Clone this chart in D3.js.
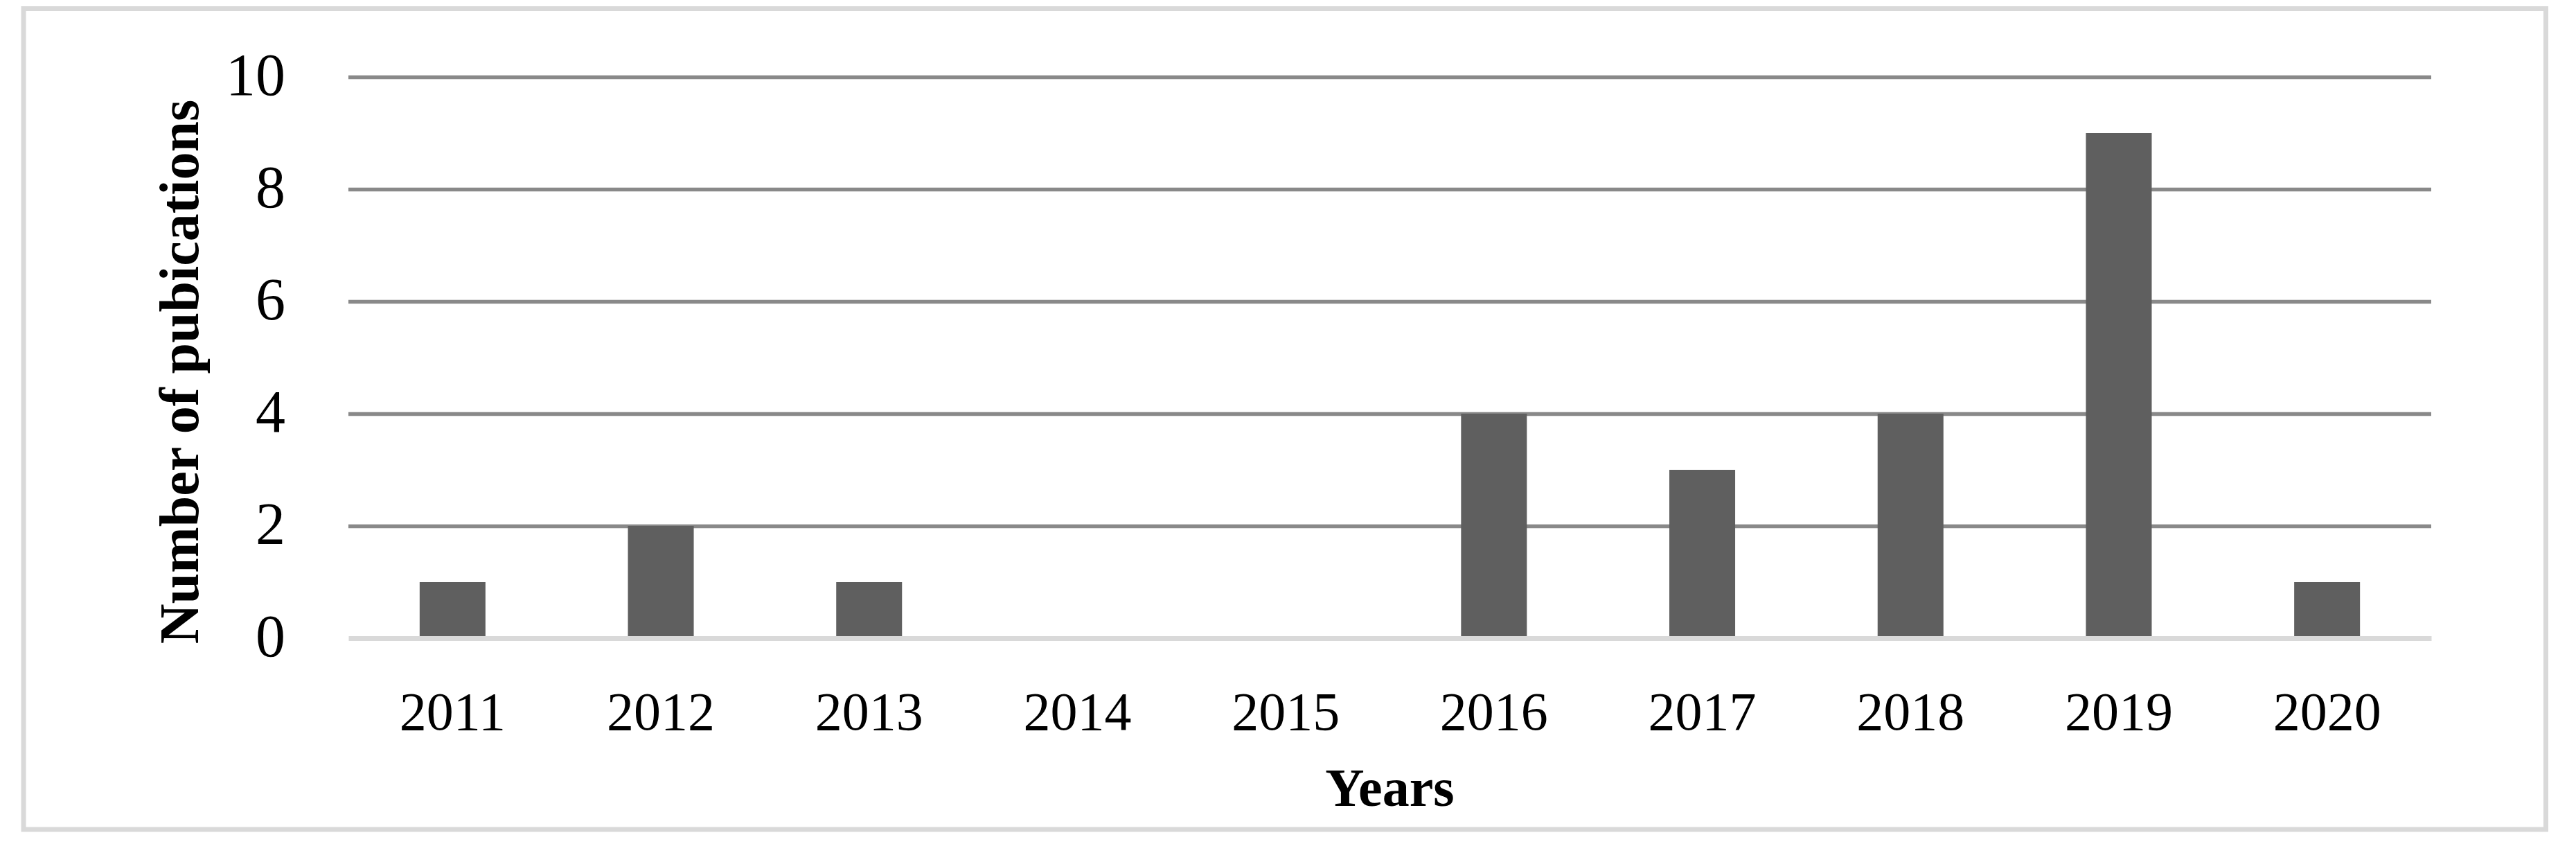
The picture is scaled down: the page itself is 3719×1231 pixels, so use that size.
<!DOCTYPE html>
<html>
<head>
<meta charset="utf-8">
<script src="https://cdn.jsdelivr.net/npm/d3@7"></script>
<style>
  html, body { margin: 0; padding: 0; background: #ffffff; }
  svg { display: block; }
  text { font-family: "Liberation Serif", "Times New Roman", serif; fill: #000; }
</style>
</head>
<body>
<script>
// ---- data ----
const years = ["2011", "2012", "2013", "2014", "2015", "2016", "2017", "2018", "2019", "2020"];
const publications = [1, 2, 1, 0, 0, 4, 3, 4, 9, 1];
const yTicks = [0, 2, 4, 6, 8, 10];
const xTitle = "Years";
const yTitle = "Number of pubications";

// ---- layout ----
const W = 3719, H = 1231;
const plotLeft = 503, plotRight = 3510, plotTop = 111, plotBottom = 921;

const svg = d3.select("body").append("svg")
  .attr("width", W).attr("height", H);

// outer frame
svg.append("rect")
  .attr("x", 34).attr("y", 12.5)
  .attr("width", 3641.5).attr("height", 1184.5)
  .attr("fill", "#ffffff")
  .attr("stroke", "#d9d9d9")
  .attr("stroke-width", 7);

const x = d3.scaleBand()
  .domain(years)
  .range([plotLeft, plotRight])
  .paddingInner(0.684)
  .paddingOuter(0.342);

const y = d3.scaleLinear()
  .domain([0, 10])
  .range([plotBottom, plotTop]);

// y axis with gridlines
const yAxisG = svg.append("g")
  .attr("transform", `translate(${plotLeft},0)`)
  .call(d3.axisLeft(y)
    .tickValues(yTicks)
    .tickFormat(d3.format("d"))
    .tickSize(-(plotRight - plotLeft))
    .tickPadding(91));
yAxisG.select(".domain").remove();
yAxisG.selectAll(".tick line")
  .attr("stroke", "#898989")
  .attr("stroke-width", 5.5)
  .attr("opacity", d => d === 0 ? 0 : 1);
yAxisG.selectAll(".tick text")
  .attr("dy", "25px")
  .style("font-size", "86px")
  .style("font-family", "'Liberation Serif', 'Times New Roman', serif")
  .attr("fill", "#000");

// bars
svg.append("g").selectAll("rect")
  .data(years.map((yr, i) => ({ yr, v: publications[i] })))
  .join("rect")
  .attr("x", d => x(d.yr))
  .attr("width", x.bandwidth())
  .attr("y", d => y(d.v))
  .attr("height", d => y(0) - y(d.v))
  .attr("fill", "#5f5f5f");

// x axis (category axis line drawn over bar bottoms)
const xAxisG = svg.append("g")
  .attr("transform", `translate(0,${plotBottom})`)
  .call(d3.axisBottom(x).tickSize(0).tickSizeOuter(0).tickPadding(132));
xAxisG.select(".domain")
  .attr("stroke", "#d9d9d9")
  .attr("stroke-width", 7);
xAxisG.selectAll(".tick text")
  .attr("dy", "0")
  .style("font-size", "78px")
  .style("font-family", "'Liberation Serif', 'Times New Roman', serif")
  .attr("fill", "#000");

// axis titles
svg.append("text")
  .attr("x", (plotLeft + plotRight) / 2)
  .attr("y", 1163)
  .attr("text-anchor", "middle")
  .style("font-size", "78px")
  .style("font-weight", "bold")
  .text(xTitle);

svg.append("text")
  .attr("transform", "translate(286,536.5) rotate(-90)")
  .attr("text-anchor", "middle")
  .style("font-size", "80px")
  .style("font-weight", "bold")
  .text(yTitle);
</script>
</body>
</html>
